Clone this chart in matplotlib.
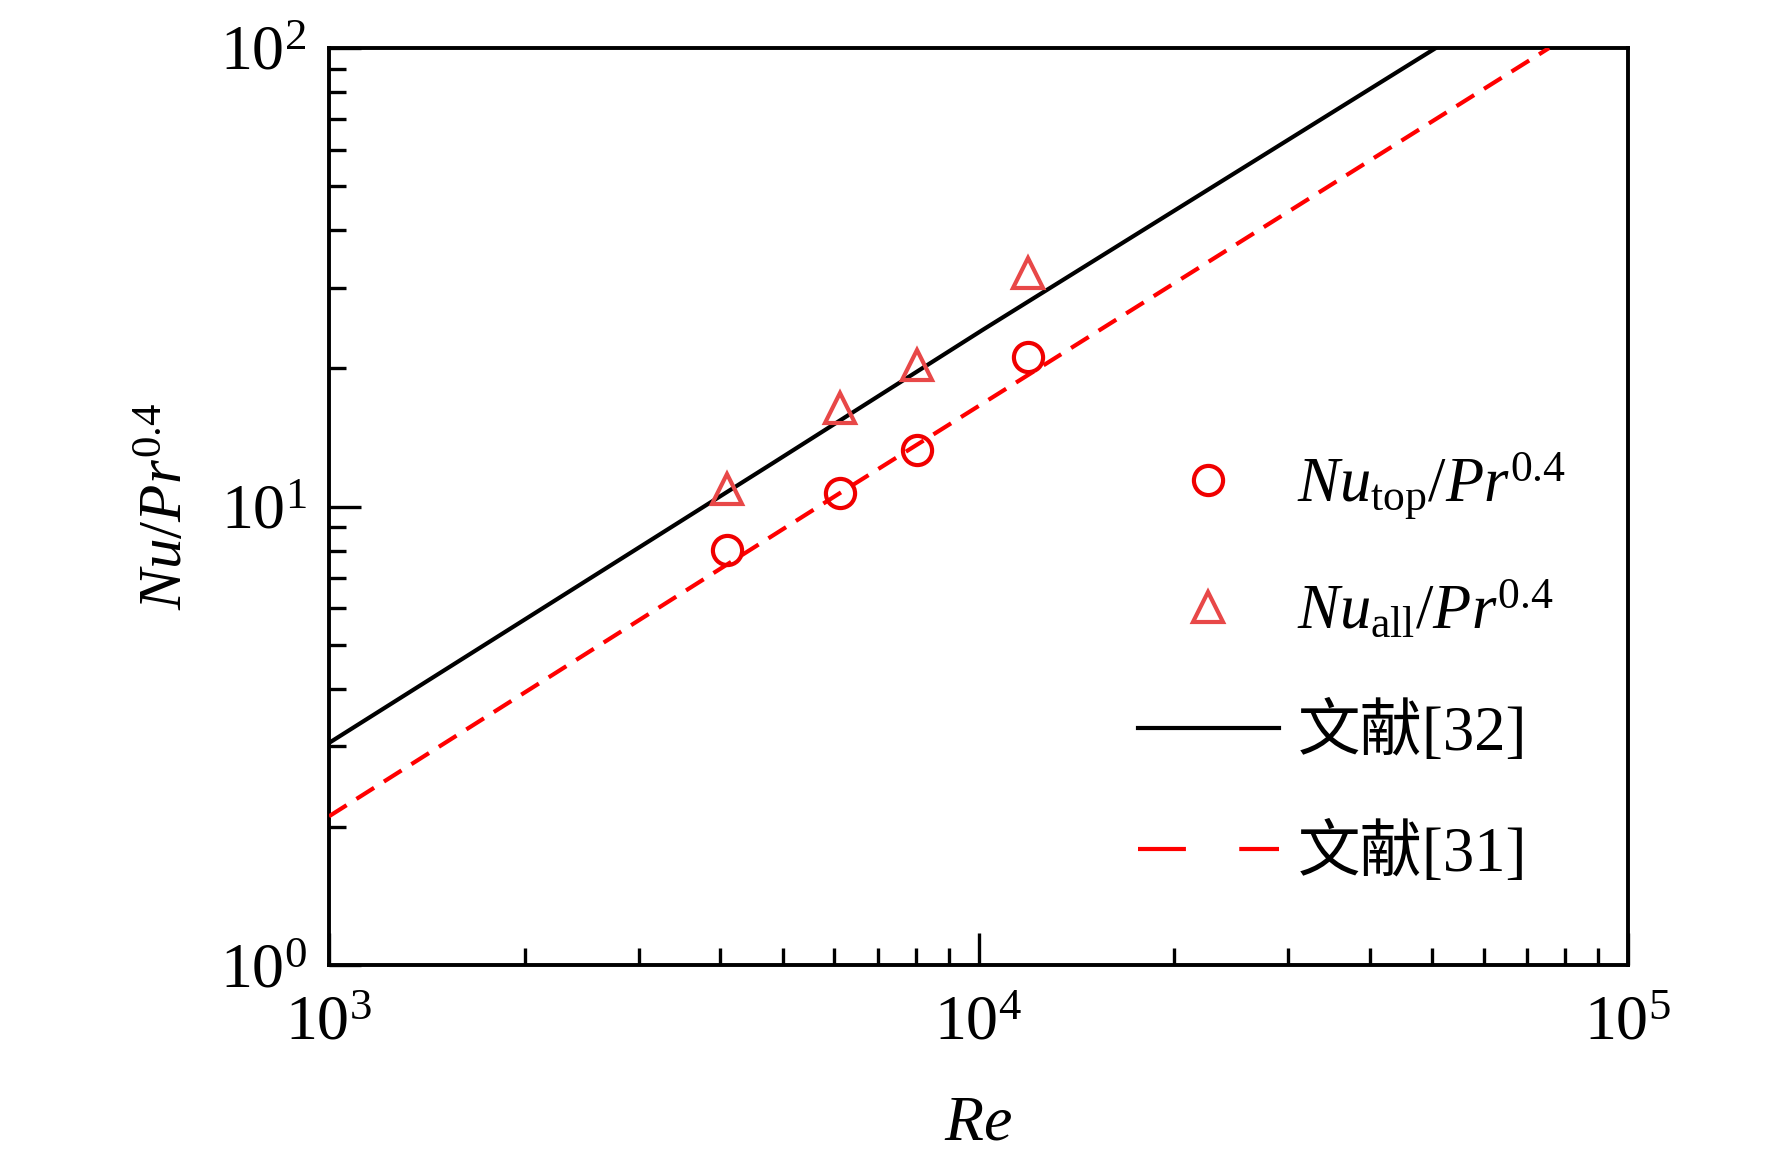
import matplotlib
matplotlib.use("Agg")
import matplotlib.pyplot as plt
from matplotlib.ticker import LogLocator, NullFormatter
from matplotlib.font_manager import FontProperties

plt.rcParams['font.family'] = ['Liberation Serif', 'Noto Sans CJK SC']
plt.rcParams['mathtext.fontset'] = 'custom'
plt.rcParams['mathtext.rm'] = 'Liberation Serif'
plt.rcParams['mathtext.it'] = 'Liberation Serif:italic'
plt.rcParams['mathtext.bf'] = 'Liberation Serif:bold'

# measured points
re_exp = [4100, 6120, 8030, 11900]
nu_top = [8.04, 10.7, 13.3, 21.2]
nu_all = [10.9, 16.4, 20.4, 32.3]

# reference correlations
re_32 = [1000, 4830, 10160, 44100, 50600]
nu_32 = [3.05, 12.45, 24.3, 88.6, 100]
re_31 = [1000, 6120, 75600]
nu_31 = [2.11, 10.7, 100]

fig = plt.figure(figsize=(17.72, 11.52), dpi=100)
ax = fig.add_axes([329 / 1772, 1 - 965 / 1152, 1299 / 1772, 917 / 1152])

ax.plot(re_exp, nu_top, ls='none', marker='o', ms=21, mfc='none',
        mec='#f00000', mew=3, label=r'$Nu_{\mathrm{top}}/Pr^{\mathrm{0.4}}$', zorder=4)
ax.plot(re_exp, nu_all, ls='none', marker='^', ms=22, mfc='none',
        mec='#e84848', mew=3, label=r'$Nu_{\mathrm{all}}/Pr^{\mathrm{0.4}}$', zorder=4)
ax.plot(re_32, nu_32, color='black', lw=3, label='文献[32]', zorder=3)
ax.plot(re_31, nu_31, color='#ff0000', lw=3, dashes=(5, 2.8), label='文献[31]', zorder=3)

ax.set_xscale('log')
ax.set_yscale('log')
ax.set_xlim(1e3, 1e5)
ax.set_ylim(1e0, 1e2)
ax.xaxis.set_minor_locator(LogLocator(base=10, subs=range(2, 10)))
ax.yaxis.set_minor_locator(LogLocator(base=10, subs=range(2, 10)))
ax.xaxis.set_minor_formatter(NullFormatter())
ax.yaxis.set_minor_formatter(NullFormatter())

for sp in ax.spines.values():
    sp.set_linewidth(2.8)
ax.tick_params(which='both', direction='in', top=False, right=False, width=2.4,
               labelsize=46)
ax.tick_params(which='major', length=23)
ax.tick_params(which='minor', length=12)
ax.tick_params(axis='x', which='major', pad=22)
ax.tick_params(axis='y', which='major', pad=16)

ax.set_xlabel(r'$Re$', fontsize=46, labelpad=30)
ax.set_ylabel(r'$Nu/Pr^{\mathrm{0.4}}$', fontsize=44, labelpad=18)

leg = fig.legend(loc='center left', bbox_to_anchor=(1138 / 1772, 1 - 668 / 1152),
                 frameon=False, prop=FontProperties(family=['Liberation Serif', 'Noto Sans CJK SC'], size=45),
                 borderpad=0, borderaxespad=0, handlelength=2.25, handletextpad=0.3,
                 labelspacing=0.95)
leg.get_lines()[3].set_dashes((11.5, 12.8))

fig.savefig('out.png', dpi=100)
